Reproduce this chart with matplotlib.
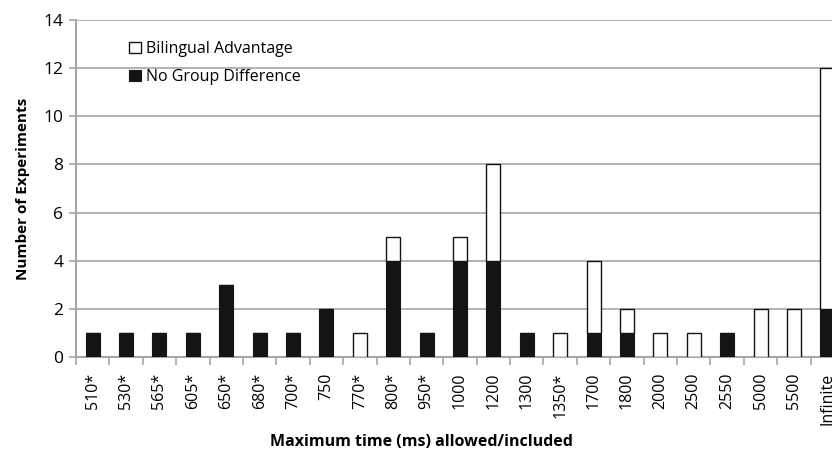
import numpy as np
import matplotlib.pyplot as plt

# categories and counts
categories = ['510*', '530*', '565*', '605*', '650*', '680*', '700*', '750', '770*', '800*',
              '950*', '1000', '1200', '1300', '1350*', '1700', '1800', '2000', '2500', '2550',
              '5000', '5500', 'Infinite']
no_group_diff = [1, 1, 1, 1, 3, 1, 1, 2, 0, 4, 1, 4, 4, 1, 0, 1, 1, 0, 0, 1, 0, 0, 2]
bilingual_adv = [0, 0, 0, 0, 0, 0, 0, 0, 1, 1, 0, 1, 4, 0, 1, 3, 1, 1, 1, 0, 2, 2, 10]

plt.rcParams['font.family'] = ['Open Sans', 'DejaVu Sans']
grid_col = '#a6a6a6'

fig = plt.figure(figsize=(8.32, 4.55), dpi=100)
# axes runs past the right edge of the figure, as in the cropped original
ax = fig.add_axes([76 / 832, 1 - 357 / 455, (844 - 76) / 832, (357 - 20) / 455])

x = np.arange(len(categories))
w = 0.42
ax.bar(x, no_group_diff, w, color='#141414', edgecolor='#141414', linewidth=0.8,
       label='No Group Difference', zorder=3)
ax.bar(x, bilingual_adv, w, bottom=no_group_diff, color='white', edgecolor='#141414',
       linewidth=1.0, label='Bilingual Advantage', zorder=3)

ax.set_xlim(-0.5, len(categories) - 0.5)
ax.set_ylim(0, 14)
ax.set_yticks(np.arange(0, 15, 2))
ax.yaxis.grid(True, color=grid_col, linewidth=1.2, zorder=0)

ax.set_xticks(x)
ax.set_xticklabels(categories, rotation=90, fontsize=11.5)
ax.set_xticks(np.arange(-0.5, len(categories), 1), minor=True)
ax.tick_params(axis='x', which='major', length=0, pad=11)
ax.tick_params(axis='x', which='minor', length=6, color=grid_col, width=1.2)
ax.tick_params(axis='y', length=5, color=grid_col, width=1.2, labelsize=12.5, pad=4)

for s in ['top', 'right']:
    ax.spines[s].set_visible(False)
for s in ['left', 'bottom']:
    ax.spines[s].set_color(grid_col)
    ax.spines[s].set_linewidth(1.5)

ax.set_ylabel('Number of Experiments', fontsize=11, fontweight='bold', labelpad=10)
fig.text(421 / 832, 1 - 442 / 455, 'Maximum time (ms) allowed/included', ha='center',
         va='center', fontsize=11.5, fontweight='bold')

h, l = ax.get_legend_handles_labels()
ax.legend(h[::-1], l[::-1], loc='upper left', bbox_to_anchor=(0.05, 0.98), frameon=False,
          fontsize=11.5, handlelength=0.75, handleheight=0.75, handletextpad=0.3,
          labelspacing=0.75)

fig.savefig('out.png', dpi=100)
